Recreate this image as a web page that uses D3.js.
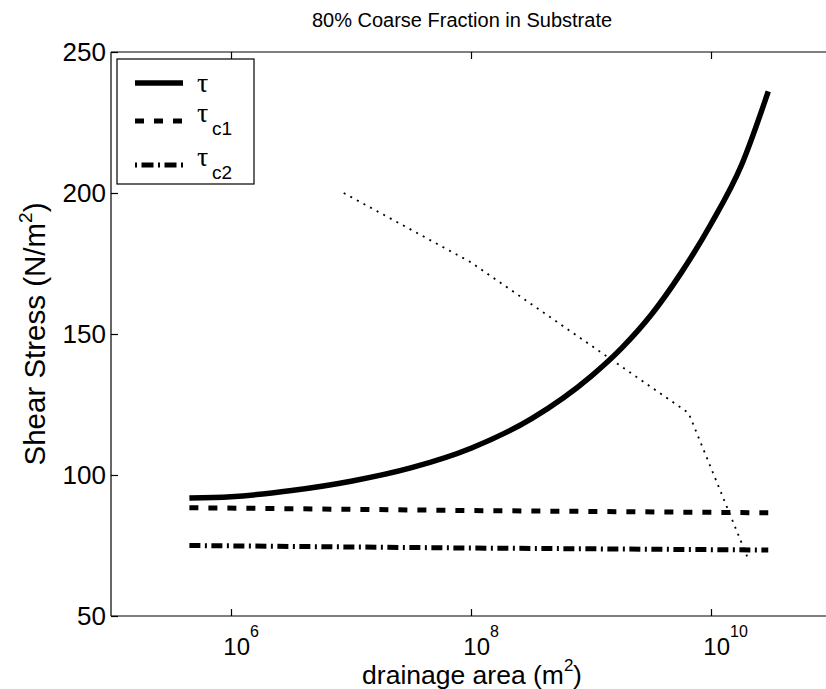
<!DOCTYPE html>
<html><head><meta charset="utf-8">
<script src="https://cdn.jsdelivr.net/npm/d3@7"></script>
<style>body{margin:0;background:#fff} text{font-family:"Liberation Sans",Arial,Helvetica,sans-serif;fill:#000}</style>
</head><body><svg id="c" width="826" height="689"></svg>
<script>
// ---- data ----
const titleText = "80% Coarse Fraction in Substrate";
const xLabelText = "drainage area (m";
const yLabelText = "Shear Stress (N/m";
const xTickExps = [6, 8, 10];
const yTicks = [50, 100, 150, 200, 250];
const legendNames = [["τ", ""], ["τ", "c1"], ["τ", "c2"]];

const tauArea = [4.5e5, 1e6, 3.2e6, 1e7, 3.2e7, 1e8, 3.2e8, 1e9, 1.8e9, 3.2e9, 5.6e9, 1e10, 1.8e10, 3.0e10];
const tauVals = [91.8, 92.3, 94.5, 97.8, 102.6, 109.5, 120.0, 135.0, 145.0, 157.0, 171.5, 189.0, 210.0, 236.0];
const tauC1Area = [4.5e5, 1e8, 3.0e10];
const tauC1Vals = [88.4, 87.4, 86.6];
const tauC2Area = [4.5e5, 1e8, 3.0e10];
const tauC2Vals = [75.0, 74.1, 73.4];
const dotArea = [8.7e6, 1e8, 6.5e9, 2.05e10];
const dotVals = [200, 175.4, 122, 70];

// ---- layout ----
const L = 111, R = 831, T = 52, B = 616;
const svg = d3.select("#c");
const x = d3.scaleLog().domain([1e5, 1e11]).range([L, R]);
const y = d3.scaleLinear().domain([50, 250]).range([B, T]);

// frame
const frame = svg.append("g").attr("stroke", "#000").attr("stroke-width", 1.2).attr("fill", "none");
frame.append("line").attr("x1", L).attr("x2", L).attr("y1", T).attr("y2", B);
frame.append("line").attr("x1", L).attr("x2", R).attr("y1", B).attr("y2", B);
frame.append("line").attr("x1", L).attr("x2", R).attr("y1", T).attr("y2", T);
frame.append("line").attr("x1", R).attr("x2", R).attr("y1", T).attr("y2", B);

// ticks via axes
const xTickVals = xTickExps.map(e => Math.pow(10, e));
const axB = svg.append("g").attr("transform", `translate(0,${B})`)
  .call(d3.axisTop(x).tickValues(xTickVals).tickSizeInner(7).tickSizeOuter(0).tickFormat(""));
const axT = svg.append("g").attr("transform", `translate(0,${T})`)
  .call(d3.axisBottom(x).tickValues(xTickVals).tickSizeInner(7).tickSizeOuter(0).tickFormat(""));
const axL = svg.append("g").attr("transform", `translate(${L},0)`)
  .call(d3.axisRight(y).tickValues(yTicks).tickSizeInner(7).tickSizeOuter(0).tickFormat(""));
[axB, axT, axL].forEach(a => { a.select(".domain").remove(); a.selectAll("line").attr("stroke", "#000").attr("stroke-width", 1.2); });

// y tick labels
svg.append("g").selectAll("text").data(yTicks).join("text")
  .attr("x", L - 5).attr("y", d => y(d)).attr("dy", "0.36em")
  .attr("text-anchor", "end").attr("font-size", 26).text(d => d);

// x tick labels 10^n
const xl = svg.append("g").selectAll("g").data(xTickExps).join("g");
xl.append("text").attr("x", d => x(Math.pow(10, d)) + 19).attr("y", 655)
  .attr("text-anchor", "end").attr("font-size", 24).text("10");
xl.append("text").attr("x", d => x(Math.pow(10, d)) + 19).attr("y", 637)
  .attr("text-anchor", "start").attr("font-size", 16).text(d => d);

// axis labels
const xlab = svg.append("text").attr("x", 472).attr("y", 684).attr("font-size", 26.5).text(xLabelText);
const xb2 = xlab.node().getBBox();
const parenW = 9, supW = 9;
const startX = 472 - (xb2.width + supW + parenW) / 2;
xlab.attr("text-anchor", "start").attr("x", startX);
svg.append("text").attr("x", startX + xb2.width).attr("y", 671).attr("font-size", 17).text("2");
svg.append("text").attr("x", startX + xb2.width + supW).attr("y", 684).attr("font-size", 26.5).text(")");

const yt = svg.append("text").attr("transform", `translate(45,${(T + B) / 2}) rotate(-90)`).attr("text-anchor", "middle").attr("font-size", 29.5);
yt.append("tspan").text(yLabelText);
yt.append("tspan").attr("font-size", 19).attr("dy", -13).text("2");
yt.append("tspan").attr("dy", 13).text(")");

// title
svg.append("text").attr("x", 462).attr("y", 27).attr("text-anchor", "middle").attr("font-size", 20).text(titleText);

// series
const line = d3.line().x(d => x(d[0])).y(d => y(d[1])).curve(d3.curveMonotoneX);
const lineL = d3.line().x(d => x(d[0])).y(d => y(d[1]));
const zip = (a, b) => a.map((v, i) => [v, b[i]]);
const styles = [
  {w: 5.5, dash: null},
  {w: 5, dash: "9,10"},
  {w: 5, dash: "11,4.5,2,4.5"}
];
const plot = svg.append("g").attr("fill", "none").attr("stroke", "#000");
plot.append("path").datum(zip(dotArea, dotVals)).attr("d", lineL).attr("stroke-width", 1.8).attr("stroke-dasharray", "2,5.5");
plot.append("path").datum(zip(tauC2Area, tauC2Vals)).attr("d", lineL).attr("stroke-width", styles[2].w).attr("stroke-dasharray", styles[2].dash);
plot.append("path").datum(zip(tauC1Area, tauC1Vals)).attr("d", lineL).attr("stroke-width", styles[1].w).attr("stroke-dasharray", styles[1].dash);
plot.append("path").datum(zip(tauArea, tauVals)).attr("d", line).attr("stroke-width", styles[0].w);

// legend
const lg = svg.append("g");
lg.append("rect").attr("x", 117).attr("y", 59).attr("width", 137).attr("height", 125)
  .attr("fill", "#fff").attr("stroke", "#000").attr("stroke-width", 1.2);
const rowsY = [83, 121, 165];
const legDash = [null, "9,10", "2,4.5,12,4.5"];
legendNames.forEach((n, i) => {
  lg.append("line").attr("x1", 135).attr("x2", 183).attr("y1", rowsY[i]).attr("y2", rowsY[i])
    .attr("stroke", "#000").attr("stroke-width", styles[i].w).attr("stroke-dasharray", legDash[i]);
  lg.append("text").attr("x", 197).attr("y", i === 0 ? 92 : rowsY[i] + 1).attr("font-size", 28)
    .style("font-family", "'Liberation Serif','DejaVu Serif',serif").text(n[0]);
  if (n[1]) {
    lg.append("text").attr("x", 212).attr("y", rowsY[i] + 14).attr("font-size", 19).text(n[1]);
  }
});
</script></body></html>
